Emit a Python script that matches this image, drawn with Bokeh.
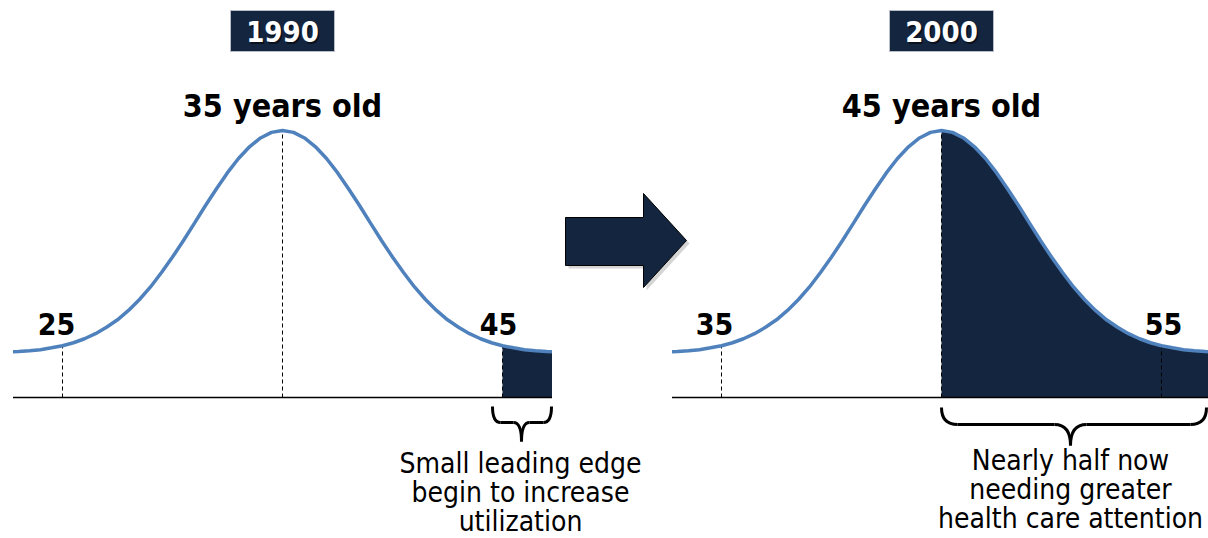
from bokeh.plotting import figure
from bokeh.models import Range1d
from bokeh.core.properties import value
from bokeh.embed import file_html
from bokeh.resources import INLINE

# ---------------- data ----------------
years = ["1990", "2000"]
median_ages = [35, 45]
headlines = ["35 years old", "45 years old"]
marker_ages = [[25, 45], [35, 55]]
attention_age = 45          # population at/after this age needs more care
# bell-curve profile (years from the median -> relative height)
half_offsets = [0.0, 0.5, 1.0, 1.5, 2.0, 2.5, 3.0, 3.5, 4.0, 4.5, 5.0, 5.5, 6.0,
                6.5, 7.0, 7.5, 8.0, 8.5, 9.0, 9.5, 10.0, 10.5, 11.0, 11.5, 12.0, 12.25]
half_heights = [100.0, 99.3, 97.2, 93.9, 89.5, 84.2, 78.2, 71.9, 65.3, 58.8, 52.6,
                46.8, 41.4, 36.7, 32.6, 29.1, 26.3, 23.9, 22.0, 20.5, 19.4, 18.6,
                17.9, 17.5, 17.2, 17.1]
notes = [["Small leading edge", "begin to increase", "utilization"],
         ["Nearly half now", "needing greater", "health care attention"]]

offsets = [-o for o in half_offsets[::-1]] + half_offsets[1:]
heights = half_heights[::-1] + half_heights[1:]
height_at = dict(zip(offsets, heights))

# ---------------- styling / layout ----------------
W, H = 1208, 538
NAVY = "#14253f"
BLUE = "#4f81bd"
FONT = value("DejaVu Sans Condensed")
PX_PER_YEAR = 22.0
BASE_PX = 397.0            # baseline (pixel row from top)
PX_PER_UNIT = 2.67
CENTER_PX = [282.0, 941.0]


def Y(ypx):
    return H - ypx


range_names = ["default", "right"]
x_ranges = []
for m, c in zip(median_ages, CENTER_PX):
    x_ranges.append(Range1d(m - c / PX_PER_YEAR, m + (W - c) / PX_PER_YEAR))

p = figure(width=W, height=H, output_backend="svg", toolbar_location=None,
           x_axis_type=None, y_axis_type=None,
           x_range=x_ranges[0],
           y_range=Range1d(-(H - BASE_PX) / PX_PER_UNIT, BASE_PX / PX_PER_UNIT),
           min_border=0, outline_line_color=None, background_fill_color="white",
           border_fill_color="white")
p.grid.visible = False
p.extra_x_ranges = {"right": x_ranges[1], "px": Range1d(0, W)}
p.extra_y_ranges = {"px": Range1d(0, H)}

label_dx = [[-6, -4], [-7, 2]]

for i in range(2):
    rn = range_names[i]
    med = median_ages[i]
    ages = [med + o for o in offsets]
    # shaded region
    sx = [a for a in ages if a >= attention_age]
    sy = [height_at[a - med] for a in sx]
    p.varea(x=sx, y1=[0] * len(sx), y2=sy, fill_color=NAVY, x_range_name=rn)
    # dashed verticals
    vx = marker_ages[i] + [med]
    p.segment(x0=vx, y0=[0] * len(vx), x1=vx, y1=[height_at[v - med] for v in vx],
              line_color="black", line_width=1, line_dash="4 3", x_range_name=rn)
    # curve
    p.line(ages, heights, line_color=BLUE, line_width=3.5, x_range_name=rn)
    # baseline
    p.segment(x0=[ages[0]], y0=[0], x1=[ages[-1]], y1=[0], line_color="black",
              line_width=1.5, x_range_name=rn)
    # marker labels
    for a, dx in zip(marker_ages[i], label_dx[i]):
        p.text(x=[a], y=[Y(323)], text=[str(a)],
               text_font=FONT, text_font_style="bold", text_font_size="30px",
               text_color="black", text_align="center", text_baseline="middle",
               x_offset=dx, x_range_name=rn, y_range_name="px")
    # headline
    p.text(x=[med], y=[Y(105)], text=[headlines[i]], text_font=FONT,
           text_font_style="bold", text_font_size="32px", text_color="black",
           text_align="center", text_baseline="middle",
           x_range_name=rn, y_range_name="px")
    # year box
    p.rect(x=[med], y=[Y(30.5)], width=104, height=41, width_units="screen",
           height_units="screen", fill_color=NAVY, line_color="#b8bcc4",
           line_width=1, x_range_name=rn, y_range_name="px")
    p.text(x=[med], y=[Y(31)], text=[years[i]], text_font=FONT,
           text_font_style="bold", text_font_size="29px", text_color="black",
           text_alpha=0.55, text_align="center", text_baseline="middle",
           x_offset=1.5, y_offset=1.5, x_range_name=rn, y_range_name="px")
    p.text(x=[med], y=[Y(31)], text=[years[i]], text_font=FONT,
           text_font_style="bold", text_font_size="29px", text_color="white",
           text_align="center", text_baseline="middle",
           x_range_name=rn, y_range_name="px")

# braces (annotation layout, pixel space)
braces = [dict(x0=492, x1=551, xc=521, top=406, mid=422, tip=441, r=8),
          dict(x0=941, x1=1206, xc=1070, top=407, mid=424, tip=445, r=16)]
for b in braces:
    x0, x1, xc, r = b["x0"], b["x1"], b["xc"], b["r"]
    t, m, k = Y(b["top"]), Y(b["mid"]), Y(b["tip"])
    p.quadratic(x0=[x0, xc - r, xc + r, x1 - r], y0=[t, m, m, m],
                x1=[x0 + r, xc, xc, x1], y1=[m, k, k, t],
                cx=[x0, xc, xc, x1], cy=[m, m, m, m],
                line_color="black", line_width=3, x_range_name="px", y_range_name="px")
    p.segment(x0=[x0 + r, xc + r], y0=[m, m], x1=[xc - r, x1 - r], y1=[m, m],
              line_color="black", line_width=3, x_range_name="px", y_range_name="px")

# notes
note_x = [520, 1070]
note_mid = [[463, 492, 521], [460, 489, 518]]
for i in range(2):
    p.text(x=[note_x[i]] * 3, y=[Y(v) for v in note_mid[i]], text=notes[i],
           text_font=FONT, text_font_size="28px", text_color="black",
           text_align="center", text_baseline="middle",
           x_range_name="px", y_range_name="px")

# arrow
ax = [565, 643, 643, 686, 643, 643, 565]
ay = [217, 217, 193, 240, 287, 265, 265]
p.patch(x=[v + 3 for v in ax], y=[Y(v + 3) for v in ay], fill_color="#888888",
        fill_alpha=0.35, line_color=None, x_range_name="px", y_range_name="px")
p.patch(x=ax, y=[Y(v) for v in ay], fill_color=NAVY, line_color="black",
        line_width=1, x_range_name="px", y_range_name="px")

open("out.html", "w").write(file_html(p, INLINE))
